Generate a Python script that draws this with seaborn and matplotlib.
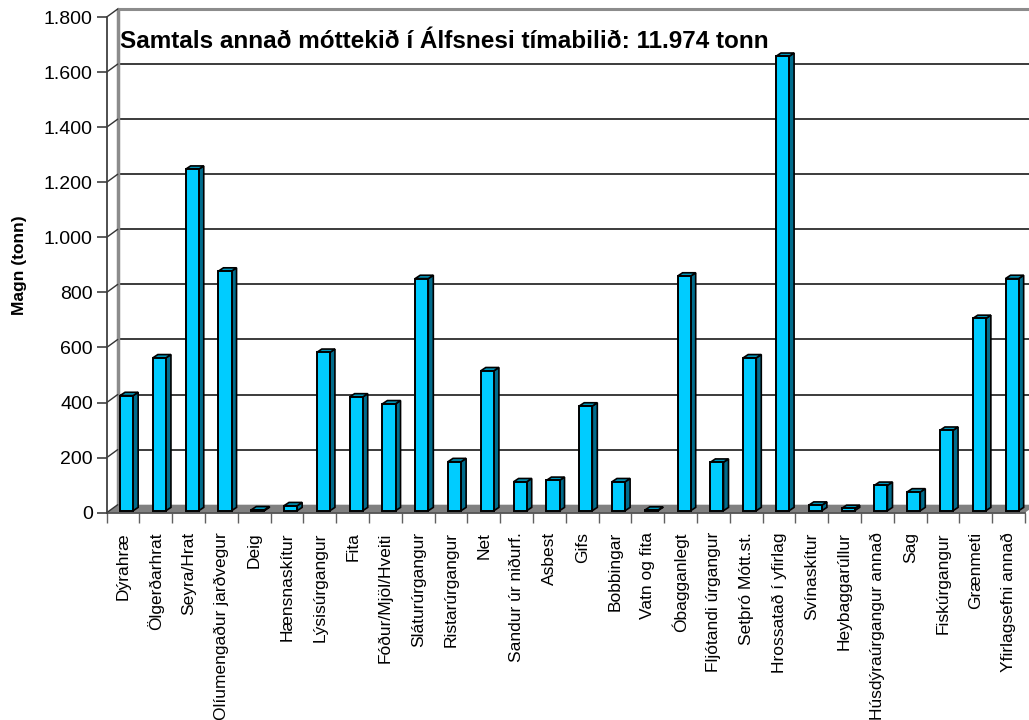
#
# plot.py
#   - Bar chart of other material received at Álfsnes (3D look, Excel style).
#

import numpy as np
import pandas as pd
import seaborn as sns
import matplotlib.pyplot as plt
from matplotlib.patches import Polygon
from matplotlib.transforms import ScaledTranslation
from matplotlib.ticker import FuncFormatter, FixedLocator

categories = [
    "Dýrahræ", "Ölgerðarhrat", "Seyra/Hrat", "Olíumengaður jarðvegur", "Deig",
    "Hænsnaskítur", "Lýsisúrgangur", "Fita", "Fóður/Mjöl/Hveiti",
    "Sláturúrgangur", "Ristarúrgangur", "Net", "Sandur úr niðurf.", "Asbest",
    "Gifs", "Bobbingar", "Vatn og fita", "Óbagganlegt", "Fljótandi úrgangur",
    "Setþró Mótt.st.", "Hrossatað í yfirlag", "Svínaskítur", "Heybaggarúllur",
    "Húsdýraúrgangur annað", "Sag", "Fiskúrgangur", "Grænmeti",
    "Yfirlagsefni annað",
]
tonnes = [
    418, 555, 1240, 870, 3,
    18, 575, 413, 388,
    843, 178, 508, 105, 110,
    380, 105, 2, 852, 176,
    555, 1650, 20, 8,
    92, 68, 292, 698,
    843,
]
yticks = [0, 200, 400, 600, 800, 1000, 1200, 1400, 1600, 1800]
note = "Samtals annað móttekið í Álfsnesi tímabilið: 11.974 tonn"
ylabel = "Magn (tonn)"


def main():
    sns.set_theme(style="white")
    plt.rcParams['font.family'] = ['Liberation Sans', 'DejaVu Sans']

    df = pd.DataFrame({"flokkur": categories, "tonn": tonnes})

    fig = plt.figure(figsize=(10.29, 7.2), dpi=100)
    W, H = 1029, 720
    x0, x1, y0, y1 = 106.7, 1025, 512.7, 17
    ax = fig.add_axes([x0 / W, (H - y0) / H, (x1 - x0) / W, (y0 - y1) / H])

    sns.barplot(data=df, x="flokkur", y="tonn", color="#00CCFF",
                edgecolor="black", linewidth=1.4, width=0.4, saturation=1,
                ax=ax, zorder=5)
    bars = list(ax.patches)
    n = len(categories)
    ax.set_xlim(-0.5, n - 0.5)
    ax.set_ylim(0, 1800)

    # pixel -> data conversions
    px_x = (x1 - x0) / n
    px_y = (y0 - y1) / 1800.0
    back_dx, back_dy = 11 / px_x, 8 / px_y
    bar_dx, bar_dy = 5 / px_x, 3.3 / px_y

    back_off = ax.transData + ScaledTranslation(0.11, 0.08, fig.dpi_scale_trans)
    bar_off = ax.transData + ScaledTranslation(0.035, 0.02, fig.dpi_scale_trans)

    # floor
    floor = Polygon([(-0.5, 0), (n - 0.5, 0), (n - 0.5 + back_dx, back_dy),
                     (-0.5 + back_dx, back_dy)], closed=True,
                    facecolor="#808080", edgecolor="none", zorder=1,
                    clip_on=False)
    ax.add_patch(floor)

    # back wall gridlines
    ax.hlines(yticks[1:-1], -0.5, n - 0.5, colors="#1a1a1a", linewidth=1.2,
              transform=back_off, clip_on=False, zorder=0)
    ax.hlines([1800], -0.5, n - 0.5, colors="#8c8c8c", linewidth=2.2,
              transform=back_off, clip_on=False, zorder=0)
    ax.plot([-0.5, -0.5], [0, 1800], color="#8c8c8c", linewidth=2.5,
            transform=back_off, clip_on=False, zorder=0)
    # side wall connectors
    for v in yticks:
        ax.plot([-0.5, -0.5 + back_dx], [v, v + back_dy], color="#333333",
                linewidth=1.0, clip_on=False, zorder=2)

    # bars: front face shifted into the depth, plus side and top faces
    for bar in bars:
        bar.set_transform(bar_off)
        bx, bw, bh = bar.get_x(), bar.get_width(), bar.get_height()
        side = Polygon([(bx + bw, 0), (bx + bw, bh), (bx + bw + bar_dx, bh + bar_dy),
                        (bx + bw + bar_dx, bar_dy)], closed=True,
                       facecolor="#006c8c", edgecolor="black", linewidth=1.2,
                       transform=bar_off, zorder=4, clip_on=False)
        top = Polygon([(bx, bh), (bx + bw, bh), (bx + bw + bar_dx, bh + bar_dy),
                       (bx + bar_dx, bh + bar_dy)], closed=True,
                      facecolor="#0096ba", edgecolor="black", linewidth=1.2,
                      transform=bar_off, zorder=4, clip_on=False)
        ax.add_patch(side)
        ax.add_patch(top)
        bar.set_clip_on(False)

    # axes styling
    for s in ["top", "right"]:
        ax.spines[s].set_visible(False)
    ax.spines["left"].set_color("#404040")
    ax.spines["bottom"].set_color("#505050")
    ax.spines["left"].set_linewidth(1.3)
    ax.spines["bottom"].set_linewidth(1.3)
    ax.spines["left"].set_zorder(6)

    ax.yaxis.set_major_locator(FixedLocator(yticks))
    ax.yaxis.set_major_formatter(FuncFormatter(lambda v, p: f"{int(v):,}".replace(",", ".")))
    ax.tick_params(axis="y", direction="out", length=7, width=1.2, color="#404040",
                   labelsize=14, pad=3, left=True, labelcolor="black")
    ax.set_xticks(range(n))
    ax.set_xticklabels(categories, rotation=90, fontsize=12.5, va="top")
    ax.set_xticks(np.arange(-0.5, n), minor=True)
    ax.tick_params(axis="x", which="major", length=0, pad=14, labelcolor="black")
    ax.tick_params(axis="x", which="minor", direction="out", length=7.5, width=1.0,
                   color="#606060", bottom=True)
    ax.set_xlabel("")
    ax.set_ylabel(ylabel, fontsize=12.5, fontweight="bold", color="black")
    ax.yaxis.set_label_coords((20 - x0) / (x1 - x0), (y0 - 265) / (y0 - y1))
    ax.yaxis.label.set_verticalalignment("center")
    ax.grid(False)

    fig.text(120 / W, 1 - 42 / H, note, fontsize=17.5, fontweight="bold",
             va="center", ha="left", color="black")

    fig.savefig("out.png", dpi=100)


if __name__ == '__main__':
    main()
